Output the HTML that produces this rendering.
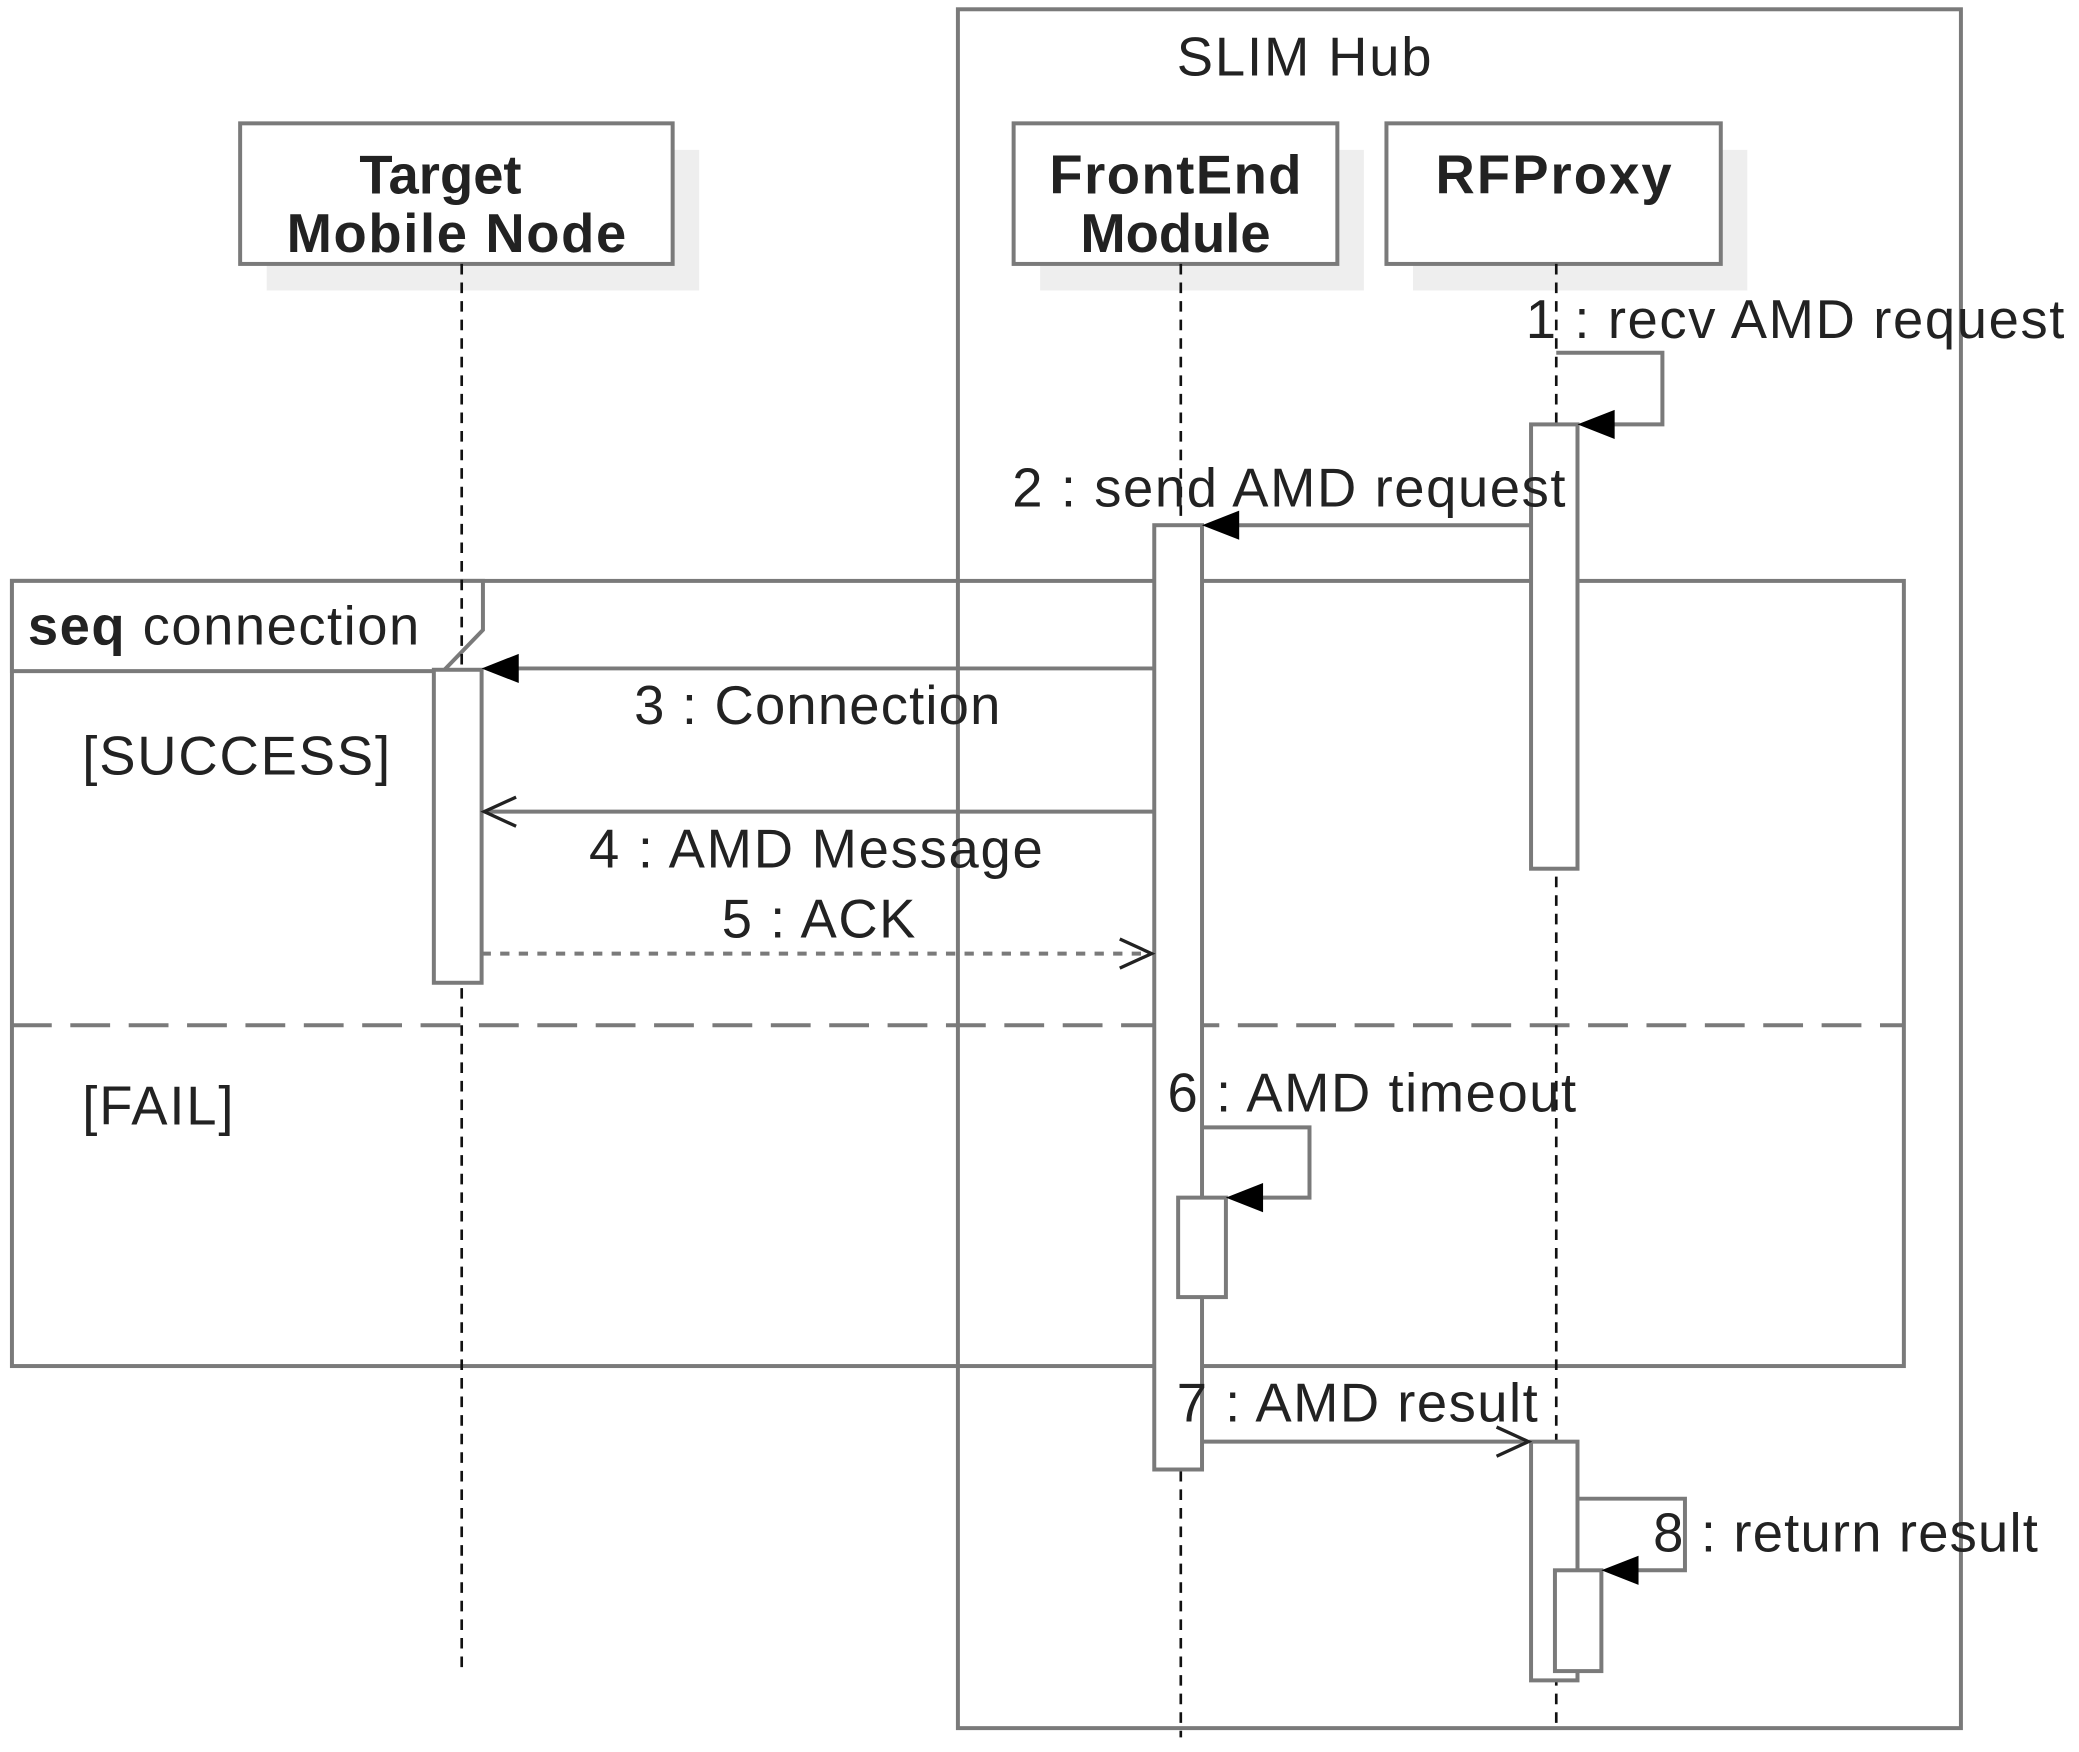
<!DOCTYPE html>
<html><head><meta charset="utf-8"><style>
html,body{margin:0;padding:0;background:#fff;}
svg{display:block;}
text{font-family:"Liberation Sans",sans-serif;fill:#222;}
</style></head><body>
<svg width="2079" height="1752" viewBox="0 0 1567 1321" preserveAspectRatio="none" xmlns="http://www.w3.org/2000/svg">
<g stroke="#7a7a7a" stroke-width="3" fill="none">
<rect x="722" y="7" width="756" height="1296"/>
<rect x="201" y="113" width="326" height="106" fill="#eee" stroke="none"/>
<rect x="784" y="113" width="244" height="106" fill="#eee" stroke="none"/>
<rect x="1065" y="113" width="252" height="106" fill="#eee" stroke="none"/>
<rect x="181" y="93" width="326" height="106" fill="#fff"/>
<rect x="764" y="93" width="244" height="106" fill="#fff"/>
<rect x="1045" y="93" width="252" height="106" fill="#fff"/>
<rect x="9" y="438" width="1426" height="592"/>
<polygon points="9,438 364,438 364,475 334,506 9,506" fill="#fff"/>
<line x1="9" y1="773" x2="1435" y2="773" stroke-dasharray="30,14"/>
</g>
<g stroke="#111" stroke-width="2" stroke-dasharray="8,6">
<line x1="348" y1="199" x2="348" y2="1260"/>
<line x1="890" y1="199" x2="890" y2="1310"/>
<line x1="1173" y1="199" x2="1173" y2="1305"/>
</g>
<g stroke="#7a7a7a" stroke-width="3" fill="#fff">
<rect x="1154" y="320" width="35" height="335"/>
<rect x="870" y="396" width="36" height="712"/>
<rect x="327" y="505" width="36" height="236"/>
<rect x="888" y="903" width="36" height="75"/>
<rect x="1154" y="1087" width="35" height="180"/>
<rect x="1172" y="1184" width="35" height="76"/>
</g>
<g stroke="#7a7a7a" stroke-width="3" fill="none">
<polyline points="1173,266 1253,266 1253,320 1215,320"/>
<line x1="1154" y1="396" x2="932" y2="396"/>
<line x1="870" y1="504" x2="389" y2="504"/>
<line x1="870" y1="612" x2="365" y2="612"/>
<line x1="363" y1="719" x2="866" y2="719" stroke-dasharray="7,7"/>
<polyline points="906,850 987,850 987,903 950,903"/>
<line x1="906" y1="1087" x2="1152" y2="1087"/>
<polyline points="1189,1130 1270,1130 1270,1184 1233,1184"/>
</g>
<g fill="#000">
<polygon points="1189,320 1217,309 1217,331"/>
<polygon points="906,396 934,385 934,407"/>
<polygon points="363,504 391,493 391,515"/>
<polygon points="924,903 952,892 952,914"/>
<polygon points="1207,1184 1235,1173 1235,1195"/>
</g>
<g stroke="#222" stroke-width="2.5" fill="none">
<polyline points="389,601 365,612 389,623"/>
<polyline points="844,708 868,719 844,730"/>
<polyline points="1128,1076 1152,1087 1128,1098"/>
</g>
<g font-size="41">
<text x="983" y="57" text-anchor="middle" textLength="192">SLIM Hub</text>
<text x="332" y="146" text-anchor="middle" font-weight="bold">Target</text>
<text x="344" y="190" text-anchor="middle" font-weight="bold" textLength="256">Mobile Node</text>
<text x="886" y="146" text-anchor="middle" font-weight="bold" textLength="190">FrontEnd</text>
<text x="886" y="190" text-anchor="middle" font-weight="bold">Module</text>
<text x="1171" y="146" text-anchor="middle" font-weight="bold" textLength="178">RFProxy</text>
<text x="1150" y="255" textLength="406">1 : recv AMD request</text>
<text x="763" y="382" textLength="417">2 : send AMD request</text>
<text x="21" y="486" textLength="295"><tspan font-weight="bold">seq</tspan> connection</text>
<text x="478" y="546" textLength="276">3 : Connection</text>
<text x="62" y="584" textLength="232">[SUCCESS]</text>
<text x="444" y="654" textLength="342">4 : AMD Message</text>
<text x="544" y="707" textLength="146">5 : ACK</text>
<text x="62" y="848" textLength="114">[FAIL]</text>
<text x="880" y="838" textLength="308">6 : AMD timeout</text>
<text x="887" y="1072" textLength="272">7 : AMD result</text>
<text x="1246" y="1170" textLength="290">8 : return result</text>
</g>
</svg>
</body></html>
